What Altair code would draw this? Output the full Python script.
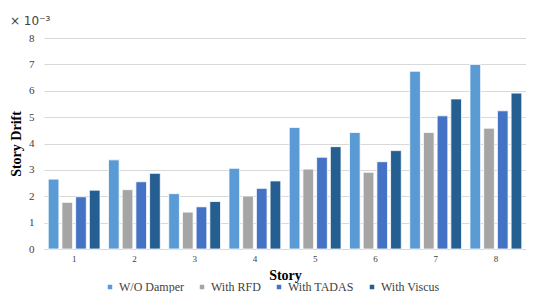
import altair as alt
import pandas as pd

stories = [1, 2, 3, 4, 5, 6, 7, 8]
series = ["W/O Damper", "With RFD", "With TADAS", "With Viscus"]
wo_damper = [2.65, 3.38, 2.10, 3.06, 4.61, 4.42, 6.74, 7.00]
with_rfd = [1.77, 2.25, 1.40, 2.01, 3.03, 2.91, 4.42, 4.58]
with_tadas = [1.98, 2.55, 1.60, 2.30, 3.48, 3.31, 5.05, 5.24]
with_viscus = [2.23, 2.87, 1.80, 2.58, 3.88, 3.73, 5.69, 5.91]
colors = ["#5B9BD5", "#A5A5A5", "#4472C4", "#255E91"]

rows = []
for name, vals in zip(series, [wo_damper, with_rfd, with_tadas, with_viscus]):
    for s, v in zip(stories, vals):
        rows.append({"Story": s, "Series": name, "Drift": v})
df = pd.DataFrame(rows)

serif = "Liberation Serif"

chart = alt.Chart(df).mark_bar(stroke="white", strokeWidth=0.8).encode(
    x=alt.X("Story:O", scale=alt.Scale(paddingInner=0.14, paddingOuter=0.07),
            axis=alt.Axis(labelAngle=0, title="Story", titleFont=serif, titleFontSize=14,
                          titleFontWeight="bold", titleColor="#000", titlePadding=5,
                          labelFont=serif, labelFontSize=9, labelColor="#404040",
                          ticks=False, domainColor="#D9D9D9", labelPadding=5)),
    xOffset=alt.XOffset("Series:N", sort=series, scale=alt.Scale(paddingInner=0.22)),
    y=alt.Y("Drift:Q", scale=alt.Scale(domain=[0, 8]),
            axis=alt.Axis(values=[0, 1, 2, 3, 4, 5, 6, 7, 8], format="d", title="Story Drift",
                          titleFont=serif, titleFontSize=14, titleFontWeight="bold",
                          titleColor="#000", titlePadding=5,
                          labelFont=serif, labelFontSize=11, labelColor="#404040",
                          ticks=False, domain=False, gridColor="#D9D9D9", labelPadding=10)),
    color=alt.Color("Series:N", sort=series,
                    scale=alt.Scale(domain=series, range=colors),
                    legend=alt.Legend(orient="none", legendX=60, legendY=243,
                                      direction="horizontal", title=None, gridAlign="none",
                                      symbolType="square", symbolSize=36, labelFont=serif,
                                      labelFontSize=12, labelColor="#404040",
                                      labelOffset=3, columnPadding=12)),
).properties(
    width=482, height=211,
    title=alt.TitleParams("× 10⁻³", anchor="start", frame="group", font="DejaVu Sans",
                          fontSize=12, fontWeight="normal", color="#404040", dx=-34, offset=4),
    padding={"left": 36, "top": 30, "right": 0, "bottom": 44},
    autosize=alt.AutoSizeParams(type="none"),
).configure_view(stroke=None)

chart.save("out.html", embed_options={"renderer": "svg", "actions": False})
